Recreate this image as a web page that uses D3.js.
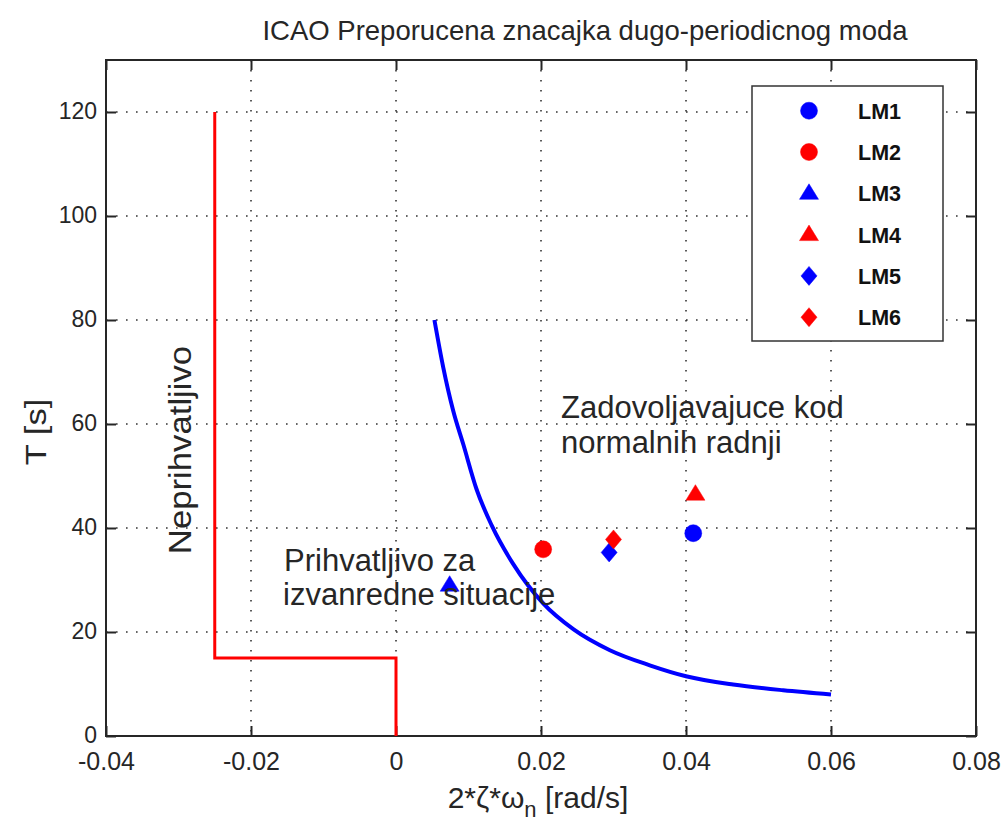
<!DOCTYPE html>
<html><head><meta charset="utf-8">
<script src="https://cdn.jsdelivr.net/npm/d3@7"></script>
<style>body{margin:0;background:#fff}svg{display:block}text{font-family:"Liberation Sans",Arial,sans-serif}</style>
</head><body>
<svg id="c" width="1001" height="822"></svg>
<script>
const titleText = "ICAO Preporucena znacajka dugo-periodicnog moda";
const xTicks = [-0.04, -0.02, 0, 0.02, 0.04, 0.06, 0.08];
const xTickLabels = ["-0.04", "-0.02", "0", "0.02", "0.04", "0.06", "0.08"];
const yTicks = [0, 20, 40, 60, 80, 100, 120];
const yTickLabels = ["0", "20", "40", "60", "80", "100", "120"];
const boundaryX = [-0.025, -0.025, 0, 0];
const boundaryT = [120, 15, 15, 0];
const curveX = [0.0053, 0.0065, 0.0079, 0.0093, 0.0111, 0.0132, 0.0162, 0.0203, 0.0245, 0.0295, 0.035, 0.040, 0.0465, 0.0534, 0.060];
const curveT = [80, 71, 62.5, 56, 47.5, 40.5, 33, 25.5, 20.5, 16.5, 13.6, 11.5, 9.9, 8.8, 8.0];
const seriesNames = ["LM1", "LM2", "LM3", "LM4", "LM5", "LM6"];
const seriesX = [0.0410, 0.0203, 0.0074, 0.0413, 0.0294, 0.0300];
const seriesT = [39.0, 35.9, 29.0, 46.5, 35.3, 37.8];
const seriesColor = ["#0000ff", "#ff0000", "#0000ff", "#ff0000", "#0000ff", "#ff0000"];
const seriesShape = ["circle", "circle", "triangle", "triangle", "diamond", "diamond"];

const L = 106, R = 976, T = 60, B = 736;
const svg = d3.select("#c");
const x = d3.scaleLinear().domain([-0.04, 0.08]).range([L, R]);
const y = d3.scaleLinear().domain([0, 130]).range([B, T]);

// grid
const g = svg.append("g");
g.selectAll(".vg").data(xTicks.slice(1, -1)).enter().append("line")
  .attr("x1", d => x(d)).attr("x2", d => x(d)).attr("y1", T).attr("y2", B)
  .attr("stroke", "#333").attr("stroke-width", 1.6).attr("stroke-dasharray", "1.6,8.4");
g.selectAll(".hg").data(yTicks.slice(1)).enter().append("line")
  .attr("x1", L).attr("x2", R).attr("y1", d => y(d)).attr("y2", d => y(d))
  .attr("stroke", "#333").attr("stroke-width", 1.6).attr("stroke-dasharray", "1.6,8.4");

// axes with inward ticks
const ax = svg.append("g").attr("transform", `translate(0,${B})`)
  .call(d3.axisBottom(x).tickValues(xTicks).tickFormat((d, i) => xTickLabels[i]).tickSizeInner(-10).tickSizeOuter(0).tickPadding(16));
const axTop = svg.append("g").attr("transform", `translate(0,${T})`)
  .call(d3.axisTop(x).tickValues(xTicks).tickFormat("").tickSizeInner(-10).tickSizeOuter(0));
const ay = svg.append("g").attr("transform", `translate(${L},0)`)
  .call(d3.axisLeft(y).tickValues(yTicks).tickFormat((d, i) => yTickLabels[i]).tickSizeInner(-10).tickSizeOuter(0).tickPadding(9));
const ayR = svg.append("g").attr("transform", `translate(${R},0)`)
  .call(d3.axisRight(y).tickValues(yTicks).tickFormat("").tickSizeInner(-10).tickSizeOuter(0));
[ax, axTop, ay, ayR].forEach(a => {
  a.select(".domain").remove();
  a.selectAll(".tick line").attr("stroke", "#262626").attr("stroke-width", 2);
  a.selectAll(".tick text").attr("fill", "#262626");
});
ax.selectAll(".tick text").attr("font-size", 25).attr("dy", "0.71em");
ay.selectAll(".tick text").attr("font-size", 23).attr("dy", "0.3em");
svg.append("rect").attr("x", L).attr("y", T).attr("width", R - L).attr("height", B - T)
  .attr("fill", "none").attr("stroke", "#262626").attr("stroke-width", 2);

// boundary
svg.append("path").datum(boundaryX.map((d, i) => [d, boundaryT[i]]))
  .attr("d", d3.line().x(d => x(d[0])).y(d => y(d[1])))
  .attr("fill", "none").attr("stroke", "#ff0000").attr("stroke-width", 3);
// curve
svg.append("path").datum(curveX.map((d, i) => [d, curveT[i]]))
  .attr("d", d3.line().x(d => x(d[0])).y(d => y(d[1])).curve(d3.curveMonotoneX))
  .attr("fill", "none").attr("stroke", "#0000ff").attr("stroke-width", 4);

function marker(sel, shape, color) {
  let p;
  if (shape === "circle") p = "M8.5,0A8.5,8.5 0 1,1 -8.5,0A8.5,8.5 0 1,1 8.5,0Z";
  else if (shape === "triangle") p = "M0,-9.5L9.5,6L-9.5,6Z";
  else p = "M0,-9.5L8,0L0,9.5L-8,0Z";
  sel.append("path").attr("d", p).attr("fill", color).attr("stroke", color).attr("stroke-width", 0.5);
}
seriesNames.forEach((n, i) => {
  const gg = svg.append("g").attr("transform", `translate(${x(seriesX[i])},${y(seriesT[i])})`);
  marker(gg, seriesShape[i], seriesColor[i]);
});

// annotations
const ann = svg.append("g").attr("fill", "#262626").attr("font-size", 31);
ann.append("text").attr("x", 561).attr("y", 418).text("Zadovoljavajuce kod");
ann.append("text").attr("x", 561).attr("y", 453).text("normalnih radnji");
ann.append("text").attr("x", 284).attr("y", 571).text("Prihvatljivo za");
ann.append("text").attr("x", 283).attr("y", 605).text("izvanredne situacije");
ann.append("text").attr("transform", "translate(191,450) rotate(-90) scale(1.12,1)").attr("text-anchor", "middle").text("Neprihvatljivo");

// title & labels
svg.append("text").attr("x", 585).attr("y", 40).attr("text-anchor", "middle").attr("font-size", 27.5).attr("fill", "#262626").text(titleText);
svg.append("text").attr("transform", "translate(46,432) rotate(-90) scale(1.15,1)").attr("text-anchor", "middle").attr("font-size", 30).attr("fill", "#262626").text("T [s]");
const xl = svg.append("text").attr("x", 538).attr("y", 808).attr("text-anchor", "middle").attr("font-size", 30).attr("fill", "#262626");
xl.append("tspan").text("2*ζ*ω");
xl.append("tspan").attr("dy", 9).attr("font-size", 22).text("n");
xl.append("tspan").attr("dy", -9).text(" [rad/s]");

// legend
const lg = svg.append("g");
lg.append("rect").attr("x", 752).attr("y", 86).attr("width", 191).attr("height", 255)
  .attr("fill", "#fff").attr("stroke", "#333").attr("stroke-width", 1.5);
seriesNames.forEach((n, i) => {
  const cy = 110.7 + i * 41.3;
  const gg = lg.append("g").attr("transform", `translate(809,${cy})`);
  marker(gg, seriesShape[i], seriesColor[i]);
  lg.append("text").attr("x", 858).attr("y", cy + 8).attr("font-size", 21.5).attr("font-weight", "bold").attr("fill", "#111").text(n);
});
</script>
</body></html>
